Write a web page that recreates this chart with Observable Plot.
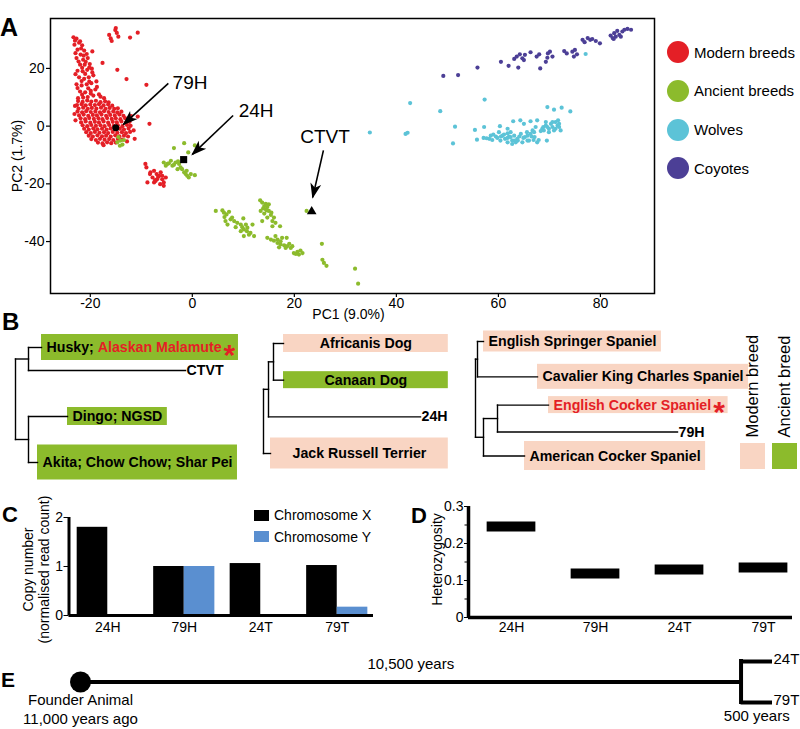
<!DOCTYPE html>
<html><head><meta charset="utf-8">
<script src="https://cdn.jsdelivr.net/npm/d3@7"></script>
<script src="https://cdn.jsdelivr.net/npm/@observablehq/plot@0.6"></script>
<style>
html,body{margin:0;padding:0;background:#fff;}
#fig{position:relative;width:800px;height:729px;overflow:hidden;font-family:"Liberation Sans",Arial,Helvetica,sans-serif;color:#000;}
.letter{position:absolute;font-weight:bold;line-height:1;}
</style></head><body><div id="fig"></div>
<script>
// ---------------- DATA ----------------
// Panel A: PCA
const groups = ["Modern breeds", "Ancient breeds", "Wolves", "Coyotes"];
const groupColors = ["#e41f26", "#8cbb2c", "#5cc3d7", "#4c3f96"];
const modern = [
 [-23.3,30.8],[-22.7,30.3],[-22.0,29.4],[-23.1,28.2],[-21.6,28.0],[-22.5,26.5],[-21.2,26.2],[-21.9,24.8],[-20.7,25.0],[-22.7,23.6],[-21.4,23.0],[-20.5,23.6],[-22.0,21.3],[-21.1,21.3],[-20.1,21.5],[-22.5,19.2],[-21.5,19.0],[-20.6,19.5],[-19.7,19.9],[-22.2,16.9],[-21.2,16.4],[-20.3,16.9],[-19.4,17.6],[-22.7,14.5],[-21.7,14.1],[-20.7,14.5],[-19.8,14.9],[-18.8,15.5],[-22.0,12.0],[-21.0,11.7],[-19.9,12.2],[-19.0,12.7],[-22.4,9.7],[-21.4,9.9],[-20.5,10.1],[-19.4,10.6],[-18.3,11.0],[-17.3,9.7],
 [-23.0,29.6],[-22.2,28.9],[-21.8,26.9],[-22.9,25.3],[-21.3,24.4],[-22.3,22.4],[-20.9,22.3],[-21.6,20.2],[-20.2,20.3],[-22.9,18.0],[-21.0,18.1],[-19.6,18.6],[-21.7,15.6],[-20.2,15.4],[-22.5,13.2],[-20.4,13.1],[-18.7,13.6],[-21.6,10.9],[-19.9,11.3],[-18.0,10.2],
 [-19.6,25.9],[-17.6,21.9],[-14.7,19.5],[-12.9,16.3],[-9.0,14.3],
 [-16.3,31.6],[-16.0,30.4],[-15.8,29.5],[-15.1,33.3],[-14.8,32.3],[-14.5,31.0],[-12.2,30.7],[-10.7,32.4],[-15.0,34.0],
 [-22.4,8.7],[-21.5,8.4],[-20.6,8.9],[-19.8,8.5],[-18.9,8.8],[-18.0,8.3],[-17.1,8.6],[-16.4,8.2],
 [-22.6,7.3],[-21.7,7.6],[-20.9,7.2],[-20.0,7.5],[-19.1,7.3],[-18.3,7.6],[-17.4,7.2],[-16.5,7.5],[-15.7,7.1],
 [-22.3,6.1],[-21.4,6.4],[-20.5,6.0],[-19.7,6.3],[-18.8,6.1],[-17.9,6.4],[-17.0,6.0],[-16.2,6.3],[-15.3,6.0],[-14.6,6.2],
 [-22.5,5.1],[-21.6,4.8],[-20.8,5.2],[-19.9,4.9],[-19.0,5.1],[-18.1,4.8],[-17.3,5.2],[-16.4,4.9],[-15.5,5.1],[-14.7,4.8],[-13.9,5.0],
 [-22.2,3.7],[-21.3,4.0],[-20.4,3.6],[-19.5,3.9],[-18.7,3.7],[-17.8,4.0],[-16.9,3.6],[-16.1,3.9],[-15.2,3.7],[-14.3,4.0],[-13.5,3.6],
 [-21.9,2.7],[-21.0,2.4],[-20.2,2.8],[-19.3,2.5],[-18.4,2.7],[-17.6,2.4],[-16.7,2.8],[-15.8,2.5],[-15.0,2.7],[-14.1,2.4],[-13.2,2.8],[-12.5,2.5],
 [-21.8,1.3],[-20.9,1.6],[-20.0,1.2],[-19.1,1.5],[-18.3,1.3],[-17.4,1.6],[-16.5,1.2],[-15.6,1.5],[-14.8,1.3],[-13.9,1.6],[-13.0,1.2],[-12.3,1.5],
 [-21.5,0.3],[-20.6,0.0],[-19.8,0.4],[-18.9,0.1],[-18.0,0.3],[-17.2,0.0],[-16.3,0.4],[-15.4,0.1],[-14.6,0.3],[-13.7,0.0],[-12.8,0.4],[-12.1,0.1],
 [-21.2,-0.9],[-20.3,-1.2],[-19.4,-0.8],[-18.6,-1.1],[-17.7,-0.9],[-16.8,-1.2],[-16.0,-0.8],[-15.1,-1.1],[-14.2,-0.9],[-13.4,-1.2],[-12.5,-0.8],
 [-20.8,-2.1],[-19.9,-2.4],[-19.1,-2.0],[-18.2,-2.3],[-17.3,-2.1],[-16.5,-2.4],[-15.6,-2.0],[-14.7,-2.3],[-13.8,-2.1],[-13.0,-2.4],[-12.2,-2.0],
 [-20.3,-3.3],[-19.5,-3.6],[-18.6,-3.2],[-17.7,-3.5],[-16.9,-3.3],[-16.0,-3.6],[-15.1,-3.2],[-14.3,-3.5],[-13.4,-3.3],[-12.6,-3.6],
 [-19.8,-4.5],[-18.9,-4.8],[-18.1,-4.4],[-17.2,-4.7],[-16.3,-4.5],[-15.5,-4.8],[-14.6,-4.4],[-13.8,-4.7],
 [-18.5,-5.7],[-17.6,-6.0],[-16.7,-5.6],[-15.9,-5.9],[-15.0,-5.7],
 [-12.0,3.5],[-11.5,-1.5],[-11.3,-4.4],[-10.7,3.3],[-8.4,0.8],[-12.8,-5.3],[-17.4,-6.6],[-23.0,7.0],[-23.1,4.2],[-22.9,2.0],
 [-9.2,-13.1],[-9.0,-14.3],[-8.2,-16.0],[-7.5,-15.5],[-7.0,-16.6],[-6.5,-17.2],[-6.2,-16.0],[-6.9,-18.4],[-5.9,-18.4],[-5.6,-19.5],[-5.2,-17.8],[-8.8,-19.5],[-7.5,-19.5],[-6.3,-20.1],[-5.6,-20.7],[-7.2,-19.0],[-8.3,-16.6],[-5.9,-17.2],[-7.8,-17.8],[-6.7,-17.6],[-7.3,-18.7]
];
const ancient = [
 [-14.5,-3.8],[-14.1,-5.0],[-13.7,-6.4],[-14.7,-5.6],[-13.4,-4.8],[-14.2,-6.8],
 [-3.6,-7.6],[-1.6,-5.9],[0.5,-6.7],[-0.8,-9.1],[-5.6,-12.6],[-4.9,-13.1],[-4.2,-12.0],[-3.9,-13.7],[-3.3,-12.6],[-2.6,-13.1],[-2.9,-14.9],[-2.0,-14.9],[-1.6,-16.0],[-1.3,-16.6],[-1.0,-17.2],[-0.7,-17.8],[-0.3,-16.6],[0.5,-17.0],[-2.3,-14.3],[-4.6,-12.9],[-5.2,-13.7],[-1.1,-15.5],[-3.6,-13.4],[-2.8,-12.2],
 [4.6,-29.4],[5.9,-29.2],[6.2,-30.0],[6.7,-30.6],[7.2,-29.7],[6.5,-32.9],[7.5,-32.3],[8.2,-32.9],[7.8,-31.7],[8.8,-33.5],[9.5,-34.1],[9.8,-35.0],[10.1,-35.8],[10.8,-35.2],[11.4,-37.0],[12.1,-38.1],[10.0,-32.0],[11.8,-34.1],[10.1,-38.1],[10.7,-36.4],[9.5,-36.4],[11.1,-37.6],[6.9,-34.1],[6.3,-31.5],[8.5,-35.0],[10.5,-34.1],
 [13.3,-25.7],[13.7,-26.5],[14.1,-27.7],[14.4,-28.8],[14.7,-28.0],[15.0,-29.4],[13.4,-29.4],[14.1,-30.3],[15.4,-30.8],[14.7,-31.7],[13.7,-32.9],[15.7,-32.9],[16.0,-31.7],[14.4,-26.9],[15.0,-27.1],[15.5,-30.0],[16.3,-33.5],[15.7,-34.7],[17.2,-34.7],[14.6,-29.2],[13.9,-28.5],
 [14.7,-38.7],[15.4,-39.3],[16.0,-39.7],[16.7,-40.5],[17.3,-41.0],[18.0,-41.3],[18.6,-41.6],[19.3,-42.2],[17.6,-38.7],[18.5,-38.7],[16.3,-38.1],[17.0,-42.0],[19.0,-40.8],[19.9,-44.0],[20.6,-43.6],[21.2,-43.1],[21.6,-44.0],[20.9,-44.5],[20.3,-44.3],[17.3,-39.9],[18.3,-42.2],[19.6,-41.6],[16.7,-39.3],
 [25.4,-40.8],[25.5,-46.3],[25.8,-47.4],[26.3,-48.4],[31.9,-49.4],[32.5,-54.6],
 [22.4,-29.4]
];
const wolves = [
 [34.8,-2.2],[41.8,-2.7],[42.2,-2.3],[42.7,8.0],[48.6,5.2],[51.5,-0.2],[51.1,-6.0],[57.3,9.2],[55.4,-1.3],[55.8,-4.7],[57.2,-0.3],[57.1,-4.1],[57.7,-4.2],[58.5,-3.3],[59.0,-2.9],[59.5,-3.6],[60.1,-2.1],[60.3,0.0],[60.8,-3.3],[61.3,-4.4],[61.8,-0.9],[62.1,-3.6],[62.7,-5.0],[62.9,1.7],[63.1,-3.3],[63.7,-4.4],[64.3,2.0],[64.4,-2.7],[64.7,-5.6],[65.0,0.8],[65.2,-3.8],[65.7,-3.3],[66.0,-5.0],[66.3,1.7],[66.3,-2.7],[66.7,-1.5],[66.9,-4.8],[67.1,-3.8],[67.3,-0.3],[67.6,2.0],[67.6,-5.6],[67.9,-4.8],[68.6,-0.9],[68.8,-0.3],[69.3,0.2],[69.5,-5.0],[69.6,6.6],[69.9,-0.9],[70.3,0.8],[70.6,-0.3],[70.9,5.7],[70.9,-1.5],[71.2,1.4],[71.6,0.2],[71.7,2.0],[71.9,-0.3],[72.2,-1.5],[72.4,6.4],[74.1,5.1],
 [62.7,-6.2],[60.4,-5.0],[61.8,-5.6],[63.4,-5.6],[65.7,-5.0],[66.5,-3.6],[67.0,-2.1],[63.8,-5.0],[65.6,-2.1],
 [68.9,-1.5],[69.6,-0.3],[70.6,1.4],[71.2,-0.9],[69.9,-2.1],[71.9,0.8],[68.3,-1.7],[69.3,1.4],
 [58.2,-4.4],[58.8,-4.8],[59.8,-4.1],[60.5,-3.6],[61.1,-2.9],[61.8,-4.1],[62.4,-3.8],[63.1,-5.0],[64.1,-3.6],[64.9,-4.1],[62.4,-2.1],[61.8,-2.5],
 [77.1,25.0]
];
const coyotes = [
 [49.2,17.4],[52.1,17.7],[55.9,20.3],[60.5,22.3],[62.0,20.9],[63.1,23.3],[63.6,24.1],[63.9,20.3],[64.2,24.9],[64.7,23.5],[65.2,24.7],[65.0,22.9],[66.3,25.6],[67.5,24.1],[68.0,24.9],[68.2,20.0],[69.3,22.3],[69.6,23.7],[69.7,25.2],[70.1,25.8],[70.6,24.1],[72.9,26.0],[73.4,25.2],[74.5,25.8],[74.8,24.1],[75.4,24.9],[75.0,26.4],[76.5,29.9],[76.9,29.1],[77.5,30.5],[78.0,29.9],[78.4,30.2],[79.1,29.5],[79.9,28.7],[82.0,31.4],[82.4,30.5],[82.7,32.2],[83.0,31.0],[83.3,33.0],[83.7,31.6],[84.3,32.8],[84.7,33.4],[85.3,33.7],[86.0,33.4],[84.0,31.0],[82.6,30.2]
];
const markedNames = ["79H", "24H", "CTVT"];
const markedPC1 = [-15.0, -1.7, 23.4];
const markedPC2 = [-0.6, -11.6, -29.6];
const labelPC1 = [-0.45, 12.5, 26.0];
const labelPC2 = [15.1, 5.4, -3.9];
const arrowFromPC1 = [-4.7, 8.0, 25.7];
const arrowFromPC2 = [14.8, 3.7, -8.4];
const arrowToPC1 = [-13.5, 0.0, 23.6];
const arrowToPC2 = [0.6, -9.8, -24.7];
const xTicksA = [-20, 0, 20, 40, 60, 80];
const yTicksA = [-40, -20, 0, 20];

// Panel B: trees
const tree1Leaves = [
 {name: "Husky; Alaskan Malamute", red: "Alaskan Malamute", star: true, kind: "ancient", row: 0},
 {name: "CTVT", row: 1},
 {name: "Dingo; NGSD", kind: "ancient", row: 3},
 {name: "Akita; Chow Chow; Shar Pei", kind: "ancient", row: 5}
];
const tree1 = {children: [
 {len: 1.3, children: [{len: 1.3, leaf: "Husky; Alaskan Malamute"}, {len: 15.7, leaf: "CTVT"}]},
 {len: 1.3, children: [{len: 3.9, leaf: "Dingo; NGSD"}, {len: 0.9, leaf: "Akita; Chow Chow; Shar Pei"}]}
]};
const tree2Leaves = [
 {name: "Africanis Dog", kind: "modern", row: 0},
 {name: "Canaan Dog", kind: "ancient", row: 1},
 {name: "24H", row: 2},
 {name: "Jack Russell Terrier", kind: "modern", row: 3}
];
const tree2 = {children: [
 {len: 0.5, children: [
   {len: 0.5, children: [{len: 1.0, leaf: "Africanis Dog"}, {len: 1.0, leaf: "Canaan Dog"}]},
   {len: 15.2, leaf: "24H"}]},
 {len: 0.7, leaf: "Jack Russell Terrier"}
]};
const tree3Leaves = [
 {name: "English Springer Spaniel", kind: "modern", row: 0},
 {name: "Cavalier King Charles Spaniel", kind: "modern", row: 1.25},
 {name: "English Cocker Spaniel", red: "English Cocker Spaniel", star: true, kind: "modern", row: 2.25},
 {name: "79H", row: 3.2},
 {name: "American Cocker Spaniel", kind: "modern", row: 4.05}
];
const tree3 = {children: [
 {len: 0.2, children: [{len: 0.6, leaf: "English Springer Spaniel"}, {len: 6.0, leaf: "Cavalier King Charles Spaniel"}]},
 {len: 0.8, children: [
   {len: 1.4, children: [{len: 5.1, leaf: "English Cocker Spaniel"}, {len: 18.0, leaf: "79H"}]},
   {len: 4.1, leaf: "American Cocker Spaniel"}]}
]};
const breedTypes = ["Modern breed", "Ancient breed"];

// Panel C / D
const samplesCD = ["24H", "79H", "24T", "79T"];
const chromosomes = ["Chromosome X", "Chromosome Y"];
const copyX = [1.80, 1.00, 1.06, 1.02];
const copyY = [0.00, 1.00, 0.00, 0.17];
const heterozygosity = [0.246, 0.119, 0.130, 0.135];

// Panel E
const founderYearsAgo = 11000;
const splitYearsAgo = 500;
const tipNames = ["24T", "79T"];

// ---------------- STYLE ----------------
const FONT = "'Liberation Sans', Arial, Helvetica, sans-serif";
const RED = "#e41f26", GREEN = "#8cbb2c", PEACH = "#f9d5c3", BLUE = "#5a8fd0";
const boxColor = {modern: PEACH, ancient: GREEN};
const boxHeight = {"Husky; Alaskan Malamute": 26, "Dingo; NGSD": 18, "Akita; Chow Chow; Shar Pei": 35,
  "Africanis Dog": 18, "Canaan Dog": 17, "Jack Russell Terrier": 31,
  "English Springer Spaniel": 21, "Cavalier King Charles Spaniel": 25, "English Cocker Spaniel": 17, "American Cocker Spaniel": 29};
const baseStyle = {fontFamily: FONT, fontSize: "14px", background: "transparent", color: "black", overflow: "visible"};

const fig = document.getElementById("fig");
function place(el, left, top) {
  el.style.position = "absolute"; el.style.left = left + "px"; el.style.top = top + "px";
  fig.appendChild(el); return el;
}
function letter(t, left, top, size) {
  const d = document.createElement("div"); d.className = "letter"; d.textContent = t;
  d.style.fontSize = size + "px"; place(d, left, top);
}

// ---------------- PANEL A ----------------
const groupArrays = {"Modern breeds": modern, "Ancient breeds": ancient, "Coyotes": coyotes, "Wolves": wolves};
const drawOrder = ["Modern breeds", "Ancient breeds", "Coyotes", "Wolves"];
const pcaPoints = drawOrder.flatMap(g => groupArrays[g].map(([pc1, pc2]) => ({pc1, pc2, group: g})));
const marked = markedNames.map((name, i) => ({name, pc1: markedPC1[i], pc2: markedPC2[i],
  lx: labelPC1[i], ly: labelPC2[i], ax: arrowFromPC1[i], ay: arrowFromPC2[i], tx: arrowToPC1[i], ty: arrowToPC2[i]}));
const markSymbol = {"79H": ["circle", 3.5], "24H": ["square", 4], "CTVT": ["triangle", 3.6]};

const plotA = Plot.plot({
  width: 660, height: 330, marginLeft: 50, marginRight: 6, marginTop: 18, marginBottom: 37,
  x: {domain: [-27.8, 90.6], label: null}, y: {domain: [-58.0, 37.3], label: null},
  color: {domain: groups, range: groupColors},
  style: baseStyle,
  marks: [
    Plot.axisX({ticks: xTicksA, tickSize: 4, tickPadding: 1, tickFormat: d => String(d), fontSize: 14, strokeWidth: 1.2, label: null}),
    Plot.axisY({ticks: yTicksA, tickSize: 4, tickPadding: 2, tickFormat: d => String(d), fontSize: 14, strokeWidth: 1.2, label: null}),
    Plot.dot(pcaPoints, {x: "pc1", y: "pc2", fill: "group", r: 2.1}),
    ...markedNames.map(n => Plot.dot(marked.filter(d => d.name === n), {x: "pc1", y: "pc2", symbol: markSymbol[n][0], r: markSymbol[n][1], fill: "black"})),
    Plot.link(marked, {x1: "ax", y1: "ay", x2: "tx", y2: "ty", stroke: "black", strokeWidth: 1.6, markerEnd: "arrow"}),
    Plot.text(marked, {x: "lx", y: "ly", text: "name", fontSize: 19}),
    Plot.frame({stroke: "black", strokeWidth: 1.5}),
    Plot.text(["PC1 (9.0%)"], {frameAnchor: "bottom", textAnchor: "middle", lineAnchor: "middle", dy: 21, dx: -4, fontSize: 14}),
    Plot.text(["PC2 (1.7%)"], {frameAnchor: "left", textAnchor: "middle", lineAnchor: "middle", dx: -32.5, rotate: -90, fontSize: 14})
  ]
});
plotA.querySelectorAll("marker").forEach(m => {
  m.setAttribute("viewBox", "-15 -6 17 12");
  m.setAttribute("markerWidth", "17"); m.setAttribute("markerHeight", "12");
  m.setAttribute("markerUnits", "userSpaceOnUse");
  m.setAttribute("fill", "black"); m.setAttribute("stroke", "none");
  while (m.firstChild) m.removeChild(m.firstChild);
  const p = document.createElementNS("http://www.w3.org/2000/svg", "path");
  p.setAttribute("d", "M-14,-5.5L1.5,0L-14,5.5L-10,0Z");
  m.appendChild(p);
});
place(plotA, 0, 0);

// legend A
groups.forEach((g, k) => {
  const row = document.createElement("div");
  row.style.cssText = "height:22px;display:flex;align-items:center;font-size:15px;white-space:nowrap;";
  row.innerHTML = `<span style="display:inline-block;width:22px;height:22px;border-radius:50%;background:${groupColors[k]}"></span><span style="margin-left:5px">${g}</span>`;
  place(row, 667, 41 + k * 38.8);
});

// ---------------- PANEL B ----------------
const ctx = document.createElement("canvas").getContext("2d");
const LEAF_SIZE = 14.2;
const LEAF_FONT = `bold ${LEAF_SIZE}px ${FONT}`, STAR_FONT = `bold 30px ${FONT}`;
function measure(t, f) { ctx.font = f; return ctx.measureText(t).width; }

function drawTree(tree, leaves, cfg) {
  const leafMap = new Map(leaves.map(d => [d.name, d]));
  const segs = [], tips = [];
  (function walk(node, x0) {
    const x = x0 + (node.len || 0);
    if (node.leaf) { const L = leafMap.get(node.leaf); tips.push({...L, x}); return {x, y: L.row}; }
    const kids = node.children.map(c => walk(c, x));
    const y1 = d3.min(kids, k => k.y), y2 = d3.max(kids, k => k.y);
    segs.push({x1: x, x2: x, y1, y2});
    kids.forEach(k => segs.push({x1: x, x2: k.x, y1: k.y, y2: k.y}));
    return {x, y: (y1 + y2) / 2};
  })(tree, 0);
  const kx = (cfg.xr[1] - cfg.xr[0]) / (cfg.xd[1] - cfg.xd[0]);
  const ky = (cfg.yr[1] - cfg.yr[0]) / (cfg.yd[1] - cfg.yd[0]);
  const starGap = 2, starW = measure("*", STAR_FONT);
  tips.forEach(t => {
    if (t.red) { const i = t.name.indexOf(t.red); t.parts = [[t.name.slice(0, i), "black"], [t.red, RED]]; }
    else t.parts = [[t.name, "black"]];
    t.textW = d3.sum(t.parts, p => measure(p[0], LEAF_FONT)) + (t.star ? starGap + starW * 0.85 : 0);
  });
  const boxRight = cfg.alignRight ? d3.max(tips.filter(t => t.kind), t => t.x * kx + t.textW + 2 * cfg.pad) : null;
  const boxes = [], texts = [], stars = [];
  tips.forEach(t => {
    let start;
    if (t.kind) {
      const left = t.x * kx;
      const w = cfg.alignRight ? boxRight - left : t.textW + 2 * cfg.pad;
      const h = boxHeight[t.name] / 2 / ky;
      boxes.push({x1: t.x, x2: t.x + w / kx, y1: t.row - h, y2: t.row + h, fill: boxColor[t.kind]});
      start = left + (w - t.textW) / 2;
    } else start = t.x * kx + 1;
    let cur = start;
    t.parts.forEach(([s, c]) => { if (s) texts.push({x: cur / kx, y: t.row, text: s, fill: c}); cur += measure(s, LEAF_FONT); });
    if (t.star) stars.push({x: (cur + starGap) / kx, y: t.row, fill: RED});
  });
  const p = Plot.plot({
    width: cfg.width, height: cfg.height, margin: 0,
    x: {domain: cfg.xd, range: cfg.xr, axis: null}, y: {domain: cfg.yd, range: cfg.yr, axis: null},
    color: {type: "identity"}, style: baseStyle,
    marks: [
      Plot.rect(boxes, {x1: "x1", x2: "x2", y1: "y1", y2: "y2", fill: "fill"}),
      Plot.link(segs, {x1: "x1", x2: "x2", y1: "y1", y2: "y2", stroke: "black", strokeWidth: 1.4, strokeLinecap: "square"}),
      Plot.text(texts, {x: "x", y: "y", text: "text", fill: "fill", textAnchor: "start", fontSize: LEAF_SIZE, fontWeight: "bold"}),
      Plot.text(stars, {x: "x", y: "y", text: () => "*", fill: "fill", textAnchor: "start", fontSize: 30, fontWeight: "bold", dy: 7.5})
    ]
  });
  place(p, cfg.left, cfg.top);
}
drawTree(tree1, tree1Leaves, {left: 0, top: 320, width: 262, height: 170, xr: [15, 255], xd: [0, 24], yr: [27, 142], yd: [0, 5], pad: 5});
drawTree(tree2, tree2Leaves, {left: 250, top: 320, width: 215, height: 170, xr: [13, 203], xd: [0, 19], yr: [23, 133], yd: [0, 3], pad: 22, alignRight: true});
drawTree(tree3, tree3Leaves, {left: 465, top: 320, width: 290, height: 170, xr: [10, 280], xd: [0, 27], yr: [21, 135.5], yd: [0, 4.05], pad: 5});

// legend B
place(Plot.plot({
  width: 70, height: 155, margin: 0,
  x: {domain: breedTypes, range: [10, 67.5], paddingInner: 0.22, paddingOuter: 0, axis: null},
  y: {domain: [0, 1], range: [149, 123], axis: null},
  color: {domain: breedTypes, range: [PEACH, GREEN]},
  style: baseStyle,
  marks: [
    Plot.barY(breedTypes, {x: d => d, y1: 0, y2: 1, fill: d => d}),
    Plot.text(breedTypes, {x: d => d, y: 1, dy: -6, text: d => d, rotate: -90, textAnchor: "start", fontSize: 16.5})
  ]
}), 730, 320);

// ---------------- PANEL C ----------------
const copyRows = samplesCD.map((s, i) => ({i, sample: s, X: copyX[i], Y: copyY[i]}));
const cX = [-0.507, 3.474];
place(Plot.plot({
  width: 400, height: 150, marginLeft: 68.5, marginRight: 27, marginTop: 27, marginBottom: 25,
  x: {domain: cX, label: null}, y: {domain: [0, 2], label: null},
  style: baseStyle,
  marks: [
    Plot.rect(copyRows, {x1: d => d.i - 0.4, x2: d => d.i, y1: 0, y2: "X", fill: "black"}),
    Plot.rect(copyRows.filter(d => d.Y > 0), {x1: d => d.i, x2: d => d.i + 0.4, y1: 0, y2: "Y", fill: BLUE}),
    Plot.ruleY([0], {strokeWidth: 3}),
    Plot.ruleX([cX[0]], {y1: 0, y2: 2, strokeWidth: 3}),
    Plot.axisY({ticks: [0, 1, 2], tickSize: 5, tickPadding: 1, tickFormat: d => String(d), fontSize: 14, label: null}),
    Plot.axisX({ticks: [0, 1, 2, 3], tickSize: 0, tickPadding: 7, tickFormat: i => samplesCD[i], fontSize: 14, label: null}),
    Plot.text(["Copy number\n(normalised read count)"], {frameAnchor: "left", textAnchor: "middle", lineAnchor: "middle", dx: -33.25, dy: 3, rotate: -90, fontSize: 14, lineHeight: 1.18})
  ]
}), 0, 490);
// legend C
chromosomes.forEach((c, k) => {
  const row = document.createElement("div");
  row.style.cssText = "height:11px;display:flex;align-items:center;font-size:14px;white-space:nowrap;";
  row.innerHTML = `<span style="display:inline-block;width:15px;height:11px;background:${k === 0 ? "black" : BLUE}"></span><span style="margin-left:5px">${c}</span>`;
  place(row, 254, 509.5 + k * 21.5);
});

// ---------------- PANEL D ----------------
const hetRows = samplesCD.map((s, i) => ({i, sample: s, het: heterozygosity[i]}));
const dX = [-0.512, 3.345];
place(Plot.plot({
  width: 400, height: 150, marginLeft: 68, marginRight: 8, marginTop: 16, marginBottom: 23,
  x: {domain: dX, label: null}, y: {domain: [0, 0.3], label: null},
  style: baseStyle,
  marks: [
    Plot.ruleY(hetRows, {y: "het", x1: d => d.i - 0.29, x2: d => d.i + 0.29, strokeWidth: 10}),
    Plot.ruleY([0], {strokeWidth: 3.5}),
    Plot.ruleX([dX[0]], {y1: 0, y2: 0.3, strokeWidth: 3.5}),
    Plot.axisY({ticks: [0, 0.1, 0.2, 0.3], tickSize: 4, tickPadding: 1, tickFormat: d => String(d), fontSize: 14, label: null}),
    Plot.axisY({ticks: [0.05, 0.15, 0.25], tickSize: 3.5, tickFormat: () => "", label: null}),
    Plot.axisX({ticks: [0, 1, 2, 3], tickSize: 0, tickPadding: 5, tickFormat: i => samplesCD[i], fontSize: 14, label: null}),
    Plot.text(["Heterozygosity"], {frameAnchor: "left", textAnchor: "middle", lineAnchor: "middle", dx: -30.5, dy: -2.5, rotate: -90, fontSize: 14})
  ]
}), 400, 490);

// ---------------- PANEL E ----------------
const tipRows = tipNames.map((n, k) => ({name: n, row: k === 0 ? -1 : 1}));
place(Plot.plot({
  width: 800, height: 89, margin: 0,
  x: {domain: [founderYearsAgo, 0], range: [80, 772], axis: null},
  y: {domain: [-1, 1], range: [21, 62], axis: null},
  style: {...baseStyle, fontSize: "15px"},
  marks: [
    Plot.ruleY([0], {x1: founderYearsAgo, x2: splitYearsAgo, strokeWidth: 4}),
    Plot.ruleX([splitYearsAgo], {y1: -1, y2: 1, strokeWidth: 4, strokeLinecap: "square"}),
    Plot.ruleY(tipRows, {y: "row", x1: splitYearsAgo, x2: 0, strokeWidth: 4}),
    Plot.dot([founderYearsAgo], {x: d => d, y: 0, r: 10.5, fill: "black"}),
    Plot.text([`${d3.format(",")(founderYearsAgo - splitYearsAgo)} years`], {x: (founderYearsAgo + splitYearsAgo) / 2, y: 0, dy: -17.8, fontSize: 15}),
    Plot.text([`Founder Animal\n${d3.format(",")(founderYearsAgo)} years ago`], {x: founderYearsAgo, y: 0, dy: 9.5, lineAnchor: "top", lineHeight: 1.25, fontSize: 15}),
    Plot.text([`${splitYearsAgo} years`], {x: splitYearsAgo / 2, y: 1, dy: 8, lineAnchor: "top", fontSize: 15}),
    Plot.text(tipRows, {x: 0, y: "row", text: "name", textAnchor: "start", dx: 1, dy: -2.5, fontSize: 15})
  ]
}), 0, 640);

// ---------------- panel letters ----------------
letter("A", 0, 14.7, 25);
letter("B", 2, 310, 24);
letter("C", 2, 504, 22);
letter("D", 411, 505, 22);
letter("E", 1, 669, 21);
</script></body></html>
